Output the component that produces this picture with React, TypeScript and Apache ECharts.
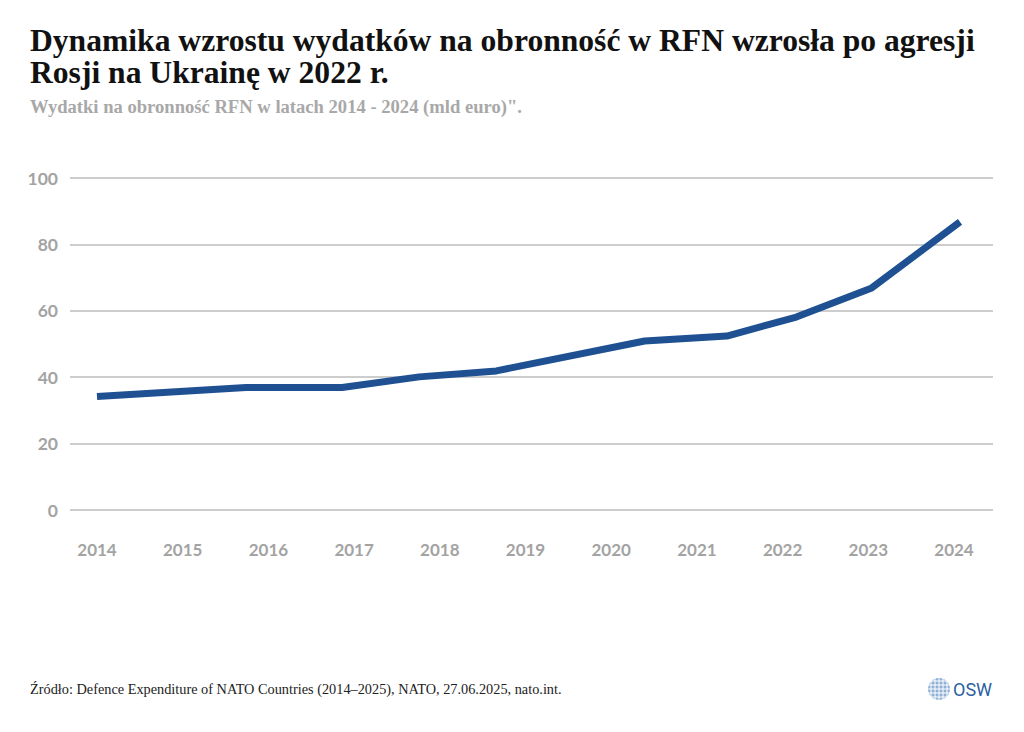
import React, { useEffect, useRef } from "react";
import * as echarts from "echarts";

const vertexYears = [2014, 2015.74, 2016.86, 2017.76, 2018.66, 2020.39, 2021.35, 2022.16, 2023.04, 2024.07];
const spending = [34.2, 36.9, 36.9, 40.1, 41.9, 50.9, 52.4, 58.1, 66.9, 86.8];
const yearLabels = [2014, 2015, 2016, 2017, 2018, 2019, 2020, 2021, 2022, 2023, 2024];
const yTicks = [0, 20, 40, 60, 80, 100];

const titleLines = [
  "Dynamika wzrostu wydatków na obronność w RFN wzrosła po agresji",
  "Rosji na Ukrainę w 2022 r.",
];
const subtitle = 'Wydatki na obronność RFN w latach 2014 - 2024 (mld euro)".';
const source = "Źródło: Defence Expenditure of NATO Countries (2014–2025), NATO, 27.06.2025, nato.int.";

export default function App() {
  const ref = useRef<HTMLDivElement>(null);
  useEffect(() => {
    if (!ref.current) return;
    const chart = echarts.init(ref.current, null, { renderer: "svg" });
    const serif = "'Liberation Serif', 'DejaVu Serif', serif";
    const globeLines: any[] = [];
    for (let i = -2; i <= 2; i++) {
      globeLines.push({
        type: "line",
        shape: { x1: 928, y1: 689 + i * 4, x2: 950, y2: 689 + i * 4 },
        style: { stroke: "#ffffff", lineWidth: 1 },
      });
      globeLines.push({
        type: "line",
        shape: { x1: 939 + i * 4, y1: 678, x2: 939 + i * 4, y2: 700 },
        style: { stroke: "#ffffff", lineWidth: 1 },
      });
    }
    chart.setOption({
      animation: false,
      backgroundColor: "#ffffff",
      grid: { left: 70, right: 31, top: 178, bottom: 222, containLabel: false },
      xAxis: {
        type: "value",
        min: 2013.685,
        max: 2024.455,
        axisLine: { show: false },
        axisTick: { show: false },
        splitLine: { show: false },
        axisLabel: {
          customValues: yearLabels,
          formatter: (v: number) => String(Math.round(v)),
          color: "#a3a3a3",
          fontFamily: "Lato",
          fontWeight: "bold",
          fontSize: 17,
          margin: 31,
        },
      },
      yAxis: {
        type: "value",
        min: 0,
        max: 100,
        interval: 20,
        axisLine: { show: false },
        axisTick: { show: false },
        splitLine: { lineStyle: { color: "#bdbdbd", width: 1.5 } },
        axisLabel: {
          customValues: yTicks,
          color: "#a3a3a3",
          fontFamily: "Lato",
          fontWeight: "bold",
          fontSize: 17.5,
          margin: 12,
        },
      },
      series: [
        {
          type: "line",
          data: vertexYears.map((y, i) => [y, spending[i]]),
          showSymbol: false,
          lineStyle: { color: "#1f5192", width: 7, cap: "butt", join: "round" },
        },
      ],
      graphic: [
        {
          type: "text",
          left: 30,
          top: 24,
          style: {
            text: titleLines[0],
            font: `bold 31.6px ${serif}`,
            fill: "#111111",
          },
        },
        {
          type: "text",
          left: 30,
          top: 56,
          style: {
            text: titleLines[1],
            font: `bold 31.6px ${serif}`,
            fill: "#111111",
          },
        },
        {
          type: "text",
          left: 30,
          top: 97,
          style: {
            text: subtitle,
            font: `bold 18.6px ${serif}`,
            fill: "#a8a8a8",
          },
        },
        {
          type: "text",
          left: 30,
          top: 682,
          style: {
            text: source,
            font: `14.3px ${serif}`,
            fill: "#222222",
          },
        },
        {
          type: "circle",
          shape: { cx: 939, cy: 689, r: 11 },
          style: { fill: "#8fb0d6" },
        },
        ...globeLines,
        {
          type: "text",
          left: 953,
          top: 680,
          style: {
            text: "OSW",
            font: "18px 'Liberation Sans Narrow', 'Roboto', sans-serif",
            fill: "#2c5fa0",
          },
        },
      ],
    });
    return () => chart.dispose();
  }, []);
  return (
    <div
      ref={ref}
      style={{ position: "fixed", left: 0, top: 0, width: 1024, height: 732 }}
    />
  );
}
